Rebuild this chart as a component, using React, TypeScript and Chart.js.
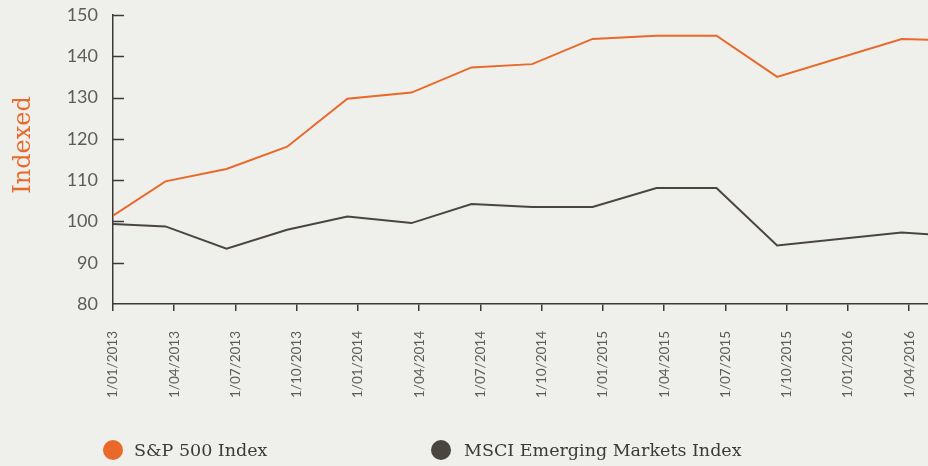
import React, { useEffect, useRef } from 'react';
import { Chart, registerables } from 'chart.js';

Chart.register(...registerables);

// Axis tick labels (quarter starts), positions in months since 1/01/2013
const tickLabels = [
  '1/01/2013', '1/04/2013', '1/07/2013', '1/10/2013',
  '1/01/2014', '1/04/2014', '1/07/2014', '1/10/2014',
  '1/01/2015', '1/04/2015', '1/07/2015', '1/10/2015',
  '1/01/2016', '1/04/2016',
];
const tickMonths = [0, 3, 6, 9, 12, 15, 18, 21, 24, 27, 30, 33, 36, 39];

const pointMonths = [0, 2.57, 5.56, 8.53, 11.48, 14.62, 17.56, 20.53, 23.49, 26.62, 29.56, 32.53, 38.63, 41.6];

const sp500 = [101.4, 109.7, 112.7, 118.1, 129.7, 131.2, 137.3, 138.1, 144.2, 145.0, 145.0, 135.0, 144.2, 143.8];
const msci = [99.4, 98.8, 93.4, 98.0, 101.2, 99.6, 104.2, 103.5, 103.5, 108.1, 108.1, 94.2, 97.3, 96.3];

const yMin = 80;
const yMax = 150;
const yStep = 10;
const xMax = 39.92;

const seriesNames = ['S&P 500 Index', 'MSCI Emerging Markets Index'];
const axisTitle = 'Indexed';

const BG = '#efefeb';
const ORANGE = '#e8692a';
const GREY = '#4b4540';
const AXIS = '#3a3a3a';
const TICK_TEXT = '#5c5c5c';

export default function App() {
  const ref = useRef<HTMLCanvasElement | null>(null);

  useEffect(() => {
    document.body.style.margin = '0';
    document.body.style.background = BG;
    const canvas = ref.current;
    if (!canvas) return;

    const extras = {
      id: 'extras',
      afterDraw(chart: any) {
        const c = chart.ctx;
        const ys = chart.scales.y;
        const left = chart.chartArea.left;
        c.save();
        c.strokeStyle = AXIS;
        c.lineWidth = 1.5;
        ys.ticks.forEach((t: any) => {
          if (t.value === yMin) return;
          const py = Math.round(ys.getPixelForValue(t.value)) + 0.5;
          c.beginPath();
          c.moveTo(left, py);
          c.lineTo(left + 11, py);
          c.stroke();
        });
        // axis title
        c.translate(24, 145);
        c.rotate(-Math.PI / 2);
        c.fillStyle = ORANGE;
        c.font = '24px "DejaVu Serif"';
        c.textAlign = 'center';
        c.textBaseline = 'middle';
        c.fillText(axisTitle, 0, 0);
        c.restore();
      },
    };

    const chart = new Chart(canvas, {
      type: 'line',
      data: {
        datasets: [
          {
            label: seriesNames[0],
            data: pointMonths.map((m, i) => ({ x: m, y: sp500[i] })),
            borderColor: ORANGE,
            backgroundColor: ORANGE,
            borderWidth: 2,
            pointRadius: 0,
            tension: 0,
          },
          {
            label: seriesNames[1],
            data: pointMonths.map((m, i) => ({ x: m, y: msci[i] })),
            borderColor: GREY,
            backgroundColor: GREY,
            borderWidth: 2,
            pointRadius: 0,
            tension: 0,
          },
        ],
      },
      options: {
        responsive: false,
        animation: false,
        layout: { padding: { top: 15, right: 0, bottom: 0, left: 0 } },
        plugins: {
          legend: { display: false },
          tooltip: { enabled: false },
        },
        scales: {
          x: {
            type: 'linear',
            min: 0,
            max: xMax,
            afterFit: (s: any) => {
              s.height = 162;
              s.paddingLeft = 0;
              s.paddingRight = 0;
            },
            afterBuildTicks: (s: any) => {
              s.ticks = tickMonths.map((v) => ({ value: v }));
            },
            grid: {
              drawOnChartArea: false,
              drawTicks: true,
              tickLength: 7,
              color: AXIS,
              lineWidth: 1.5,
            },
            border: { display: true, color: AXIS, width: 1.5 },
            ticks: {
              autoSkip: false,
              maxRotation: 90,
              minRotation: 90,
              padding: 20,
              color: TICK_TEXT,
              font: { family: 'Lato', size: 13.5 },
              callback: (v: any) => {
                const i = tickMonths.indexOf(Number(v));
                return i >= 0 ? tickLabels[i] : '';
              },
            },
          },
          y: {
            min: yMin,
            max: yMax,
            afterFit: (s: any) => {
              s.width = 113;
              s.paddingTop = 0;
              s.paddingBottom = 0;
            },
            grid: { display: false, drawTicks: false },
            border: { display: true, color: AXIS, width: 1.5 },
            ticks: {
              stepSize: yStep,
              padding: 15,
              color: TICK_TEXT,
              font: { family: 'Lato', size: 18 },
            },
          },
        },
      },
      plugins: [extras],
    });
    return () => chart.destroy();
  }, []);

  const legendText: React.CSSProperties = {
    position: 'absolute',
    top: 438,
    fontFamily: '"DejaVu Serif"',
    fontSize: 17.5,
    lineHeight: '24px',
    color: '#3a3a3a',
    whiteSpace: 'nowrap',
  };
  const dot = (color: string, left: number): React.CSSProperties => ({
    position: 'absolute',
    left,
    top: 440,
    width: 20,
    height: 20,
    borderRadius: '50%',
    background: color,
  });

  return (
    <div style={{ position: 'relative', width: 928, height: 466, background: BG, overflow: 'hidden' }}>
      <canvas ref={ref} width={928} height={466} style={{ display: 'block' }} />
      <div style={dot(ORANGE, 103)} />
      <div style={{ ...legendText, left: 134 }}>{seriesNames[0]}</div>
      <div style={dot(GREY, 431)} />
      <div style={{ ...legendText, left: 464 }}>{seriesNames[1]}</div>
    </div>
  );
}
